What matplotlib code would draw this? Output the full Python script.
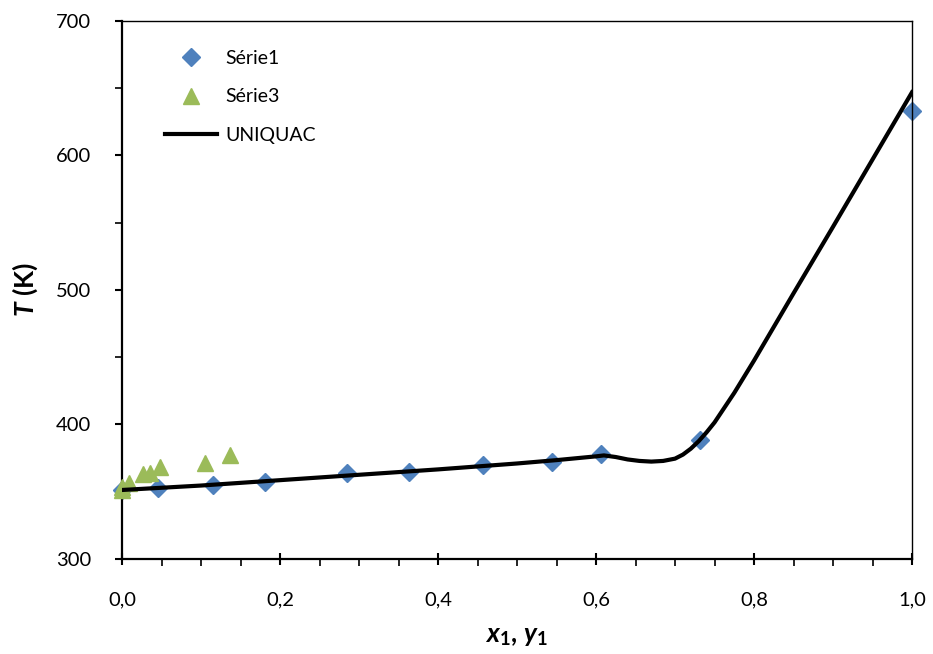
import numpy as np
import matplotlib
matplotlib.use('Agg')
import matplotlib.pyplot as plt
from matplotlib.ticker import MultipleLocator, FuncFormatter

# Série1 : liquid phase points (x1, T)
x_serie1 = [0.0, 0.046, 0.115, 0.181, 0.285, 0.363, 0.457, 0.544, 0.606, 0.732, 1.0]
t_serie1 = [351.0, 352.6, 355.3, 357.5, 364.2, 364.9, 369.9, 372.3, 377.8, 388.5, 633.1]

# Série3 : vapour phase points (y1, T)
x_serie3 = [0.0, 0.0, 0.009, 0.027, 0.036, 0.048, 0.105, 0.137]
t_serie3 = [351.0, 353.8, 356.3, 363.2, 364.2, 368.6, 371.6, 377.3]

# UNIQUAC curve
x_uniquac = [0.0, 0.10, 0.20, 0.30, 0.40, 0.50, 0.55, 0.60, 0.61, 0.625, 0.64,
             0.655, 0.67, 0.685, 0.70, 0.71, 0.72, 0.73, 0.74, 0.75, 0.775,
             0.80, 0.85, 0.90, 0.95, 1.0]
t_uniquac = [351.3, 354.6, 358.6, 362.6, 366.6, 371.0, 373.5, 376.3, 377.0, 375.8, 374.0,
             372.9, 372.4, 372.9, 374.6, 377.6, 382.0, 387.6, 394.2, 401.5, 423.5,
             447.5, 497.5, 547.0, 597.0, 647.0]

BLUE = '#4F81BD'
GREEN = '#9BBB59'


def comma(v, pos):
    return ('%.1f' % v).replace('.', ',')


def main():
    plt.rcParams['font.family'] = ['Lato', 'DejaVu Sans']
    plt.rcParams['mathtext.fontset'] = 'custom'
    plt.rcParams['mathtext.bf'] = 'Lato:bold'
    plt.rcParams['mathtext.bfit'] = 'Lato:bold:italic'
    plt.rcParams['mathtext.it'] = 'Lato:italic'
    plt.rcParams['mathtext.rm'] = 'Lato'

    fig = plt.figure(figsize=(9.33, 6.54), dpi=100)
    ax = fig.add_axes([0.1308, 0.1453, 0.8467, 0.8226])

    ax.plot(x_serie1, t_serie1, linestyle='none', marker='D', ms=9, color=BLUE,
            label='Série1', zorder=2, clip_on=False)
    ax.plot(x_serie3, t_serie3, linestyle='none', marker='^', ms=11, color=GREEN,
            label='Série3', zorder=3, clip_on=False)
    ax.plot(x_uniquac, t_uniquac, color='black', lw=3, label='UNIQUAC', zorder=4)

    ax.set_xlim(0, 1)
    ax.set_ylim(300, 700)
    ax.xaxis.set_major_locator(MultipleLocator(0.2))
    ax.xaxis.set_minor_locator(MultipleLocator(0.05))
    ax.yaxis.set_major_locator(MultipleLocator(100))
    ax.yaxis.set_minor_locator(MultipleLocator(50))
    ax.xaxis.set_major_formatter(FuncFormatter(comma))

    ax.tick_params(axis='x', which='major', direction='inout', length=9, width=1.5,
                   labelsize=14.5, pad=19)
    ax.tick_params(axis='x', which='minor', direction='out', length=5, width=1.2)
    ax.tick_params(axis='y', which='major', direction='out', length=5, width=1.5,
                   labelsize=14.5, pad=17)
    ax.tick_params(axis='y', which='minor', direction='out', length=5, width=1.2)

    for s in ['left', 'bottom']:
        ax.spines[s].set_linewidth(1.6)
    for s in ['top', 'right']:
        ax.spines[s].set_linewidth(1.0)

    ax.set_xlabel(r'$\mathbfit{x}_\mathbf{1}\mathbf{,}\ \mathbfit{y}_\mathbf{1}$',
                  fontsize=19, labelpad=10)
    ax.set_ylabel(r'$\mathbfit{T}$ (K)', fontsize=19, fontweight='bold', labelpad=12)

    ax.legend(loc='upper left', bbox_to_anchor=(0.054, 0.946), frameon=False,
              fontsize=14, handlelength=2.7, handletextpad=0.4, labelspacing=1.1,
              borderpad=0, borderaxespad=0)

    fig.savefig('out.png', dpi=100)


if __name__ == '__main__':
    main()
